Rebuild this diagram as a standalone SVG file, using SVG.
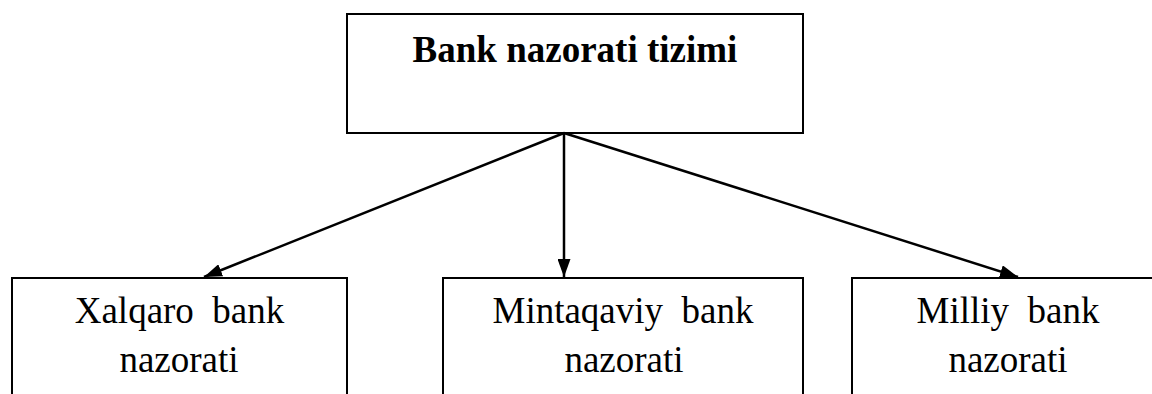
<svg xmlns="http://www.w3.org/2000/svg" width="1152" height="394" viewBox="0 0 1152 394">
<style>
.box{fill:#fff;stroke:#000;stroke-width:2}
.t{font-family:"Liberation Serif","Times New Roman",serif;font-size:37px;fill:#000;text-anchor:middle}
.b{font-weight:bold}
.c{stroke:#000;stroke-width:2.5;fill:none}
</style>
<defs>
<marker id="ah" markerWidth="18" markerHeight="13" refX="18" refY="6.5" orient="auto" markerUnits="userSpaceOnUse">
<path d="M0,0 L18,6.5 L0,13 Z" fill="#000"/>
</marker>
</defs>
<rect width="1152" height="394" fill="#fff"/>
<g id="top">
<rect class="box" x="347" y="14" width="456" height="119"/>
<text class="t b" x="575" y="62">Bank nazorati tizimi</text>
</g>
<g id="xalqaro">
<rect class="box" x="12" y="278" width="335" height="140"/>
<text class="t" x="179.5" y="323" xml:space="preserve">Xalqaro  bank</text>
<text class="t" x="179" y="372">nazorati</text>
</g>
<g id="mintaqaviy">
<rect class="box" x="443" y="278" width="360" height="140"/>
<text class="t" x="623" y="323" xml:space="preserve">Mintaqaviy  bank</text>
<text class="t" x="624" y="372">nazorati</text>
</g>
<g id="milliy">
<rect class="box" x="852" y="278" width="312" height="140"/>
<text class="t" x="1008" y="323" xml:space="preserve">Milliy  bank</text>
<text class="t" x="1008" y="372">nazorati</text>
</g>
<g id="connectors">
<line class="c" x1="564" y1="133" x2="204" y2="277" marker-end="url(#ah)"/>
<line class="c" x1="564" y1="133" x2="564" y2="277" marker-end="url(#ah)"/>
<line class="c" x1="564" y1="133" x2="1018" y2="277" marker-end="url(#ah)"/>
</g>
</svg>
